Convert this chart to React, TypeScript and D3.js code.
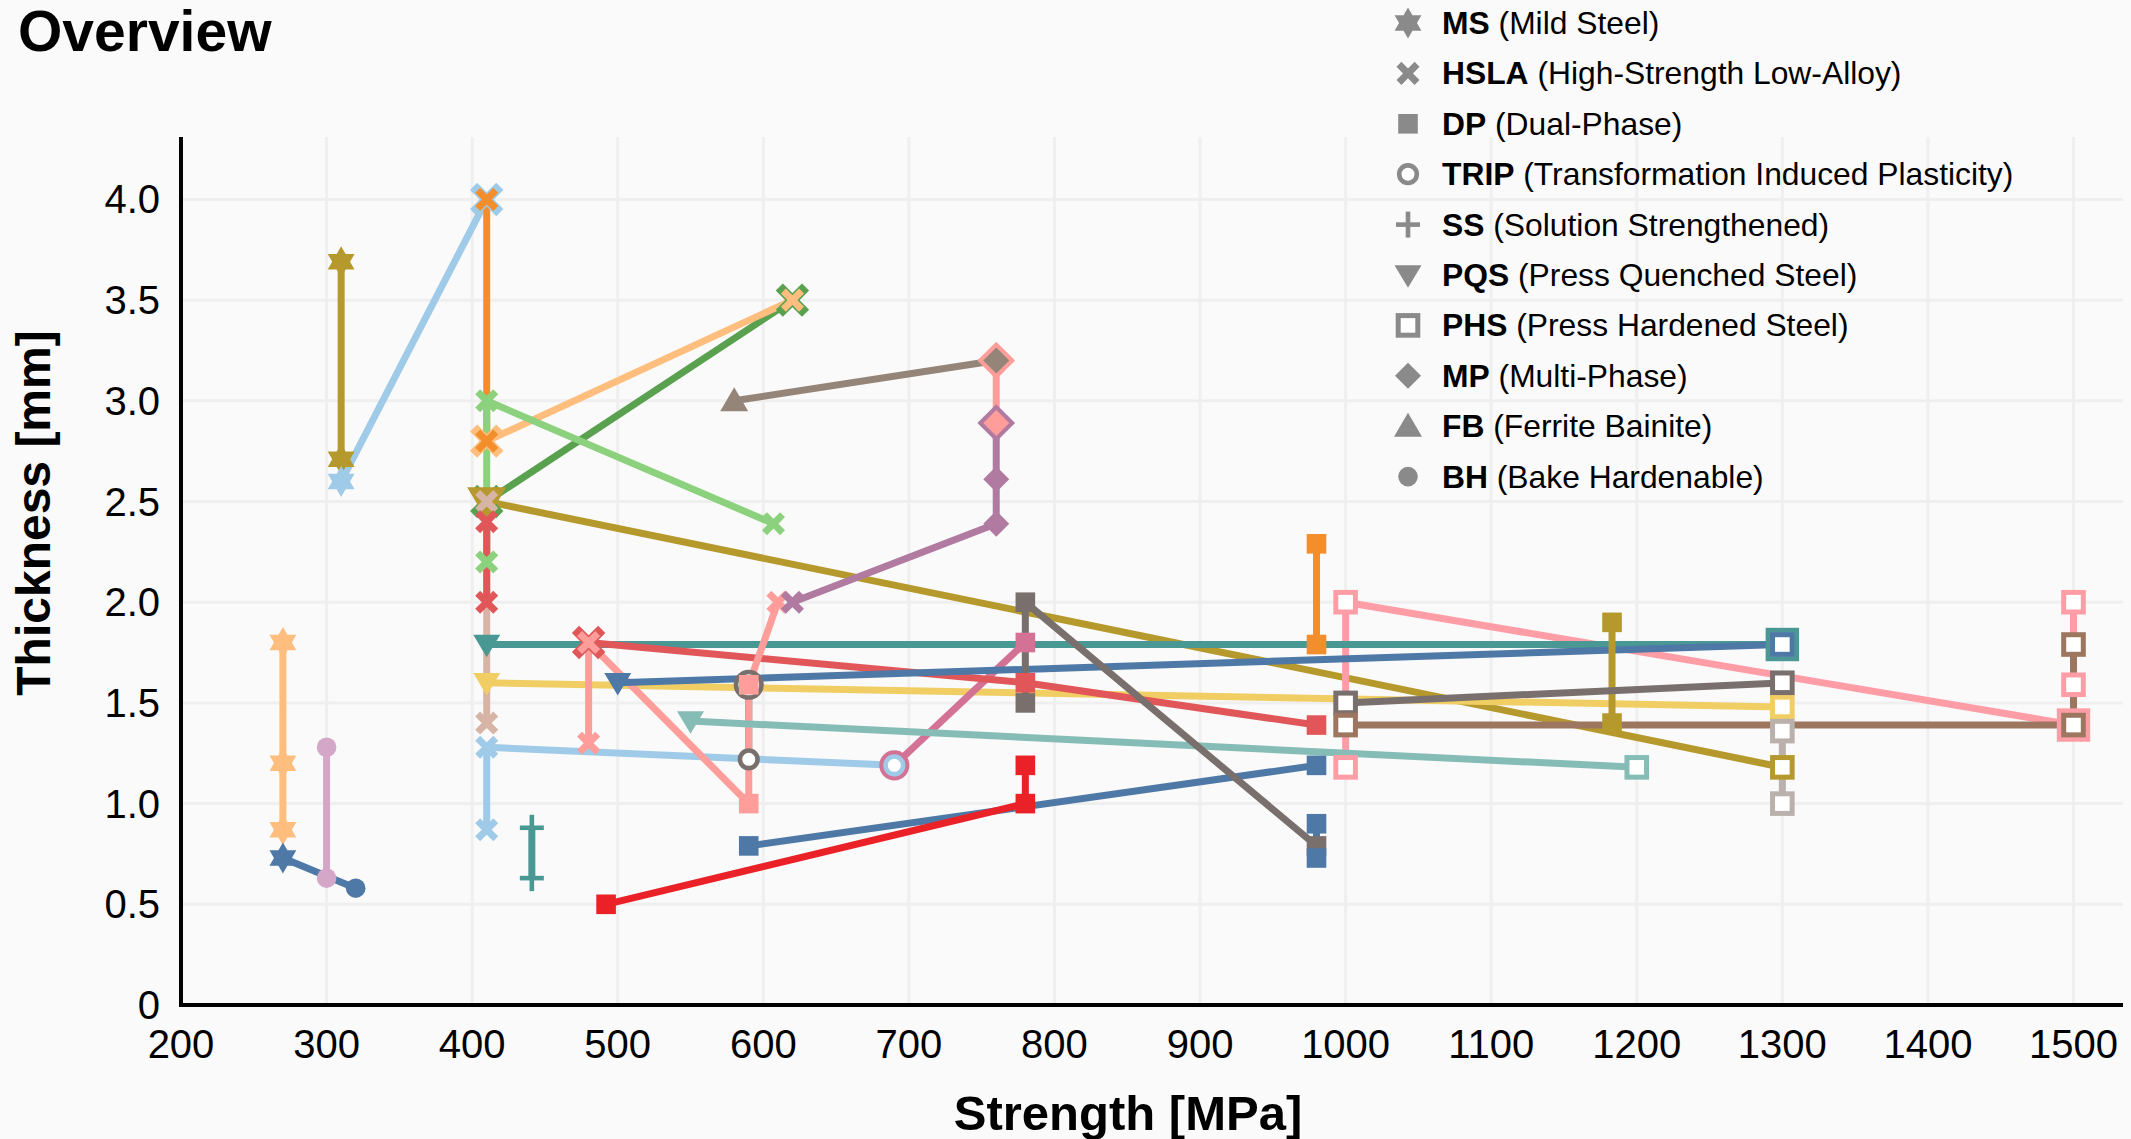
import React, { useEffect } from "react";
import * as d3 from "d3";

type Pt = [number, number, string];

// ---------- data ----------
const xTicks = [200, 300, 400, 500, 600, 700, 800, 900, 1000, 1100, 1200, 1300, 1400, 1500];
const yTicks = [0, 0.5, 1.0, 1.5, 2.0, 2.5, 3.0, 3.5, 4.0];

const legendCodes = ["MS", "HSLA", "DP", "TRIP", "SS", "PQS", "PHS", "MP", "FB", "BH"];
const legendNames = [
  "Mild Steel",
  "High-Strength Low-Alloy",
  "Dual-Phase",
  "Transformation Induced Plasticity",
  "Solution Strengthened",
  "Press Quenched Steel",
  "Press Hardened Steel",
  "Multi-Phase",
  "Ferrite Bainite",
  "Bake Hardenable",
];

const lightOrangeMS: Pt[] = [[270, 1.8, "MS"], [270, 1.2, "MS"], [270, 0.87, "MS"]];
const blueMS: Pt[] = [[270, 0.73, "MS"], [320, 0.58, "BH"]];
const lightPurpleBH: Pt[] = [[300, 1.28, "BH"], [300, 0.63, "BH"]];
const goldMS: Pt[] = [[310, 3.69, "MS"], [310, 2.71, "MS"]];
const lightBlueA: Pt[] = [[310, 2.6, "MS"], [410, 4.0, "HSLA"]];
const greenHSLA: Pt[] = [[410, 2.5, "HSLA"], [620, 3.5, "HSLA"]];
const goldPQS: Pt[] = [[410, 2.5, "PQS"], [1300, 1.18, "PHS"]];
const lightOrangeHSLA: Pt[] = [[410, 2.8, "HSLA"], [620, 3.5, "HSLA"]];
const orangeHSLA: Pt[] = [[410, 4.0, "HSLA"], [410, 2.8, "HSLA"]];
const tanHSLA: Pt[] = [[410, 2.5, "HSLA"], [410, 1.4, "HSLA"]];
const lightGreenHSLA: Pt[] = [[410, 2.2, "HSLA"], [410, 3.0, "HSLA"], [607, 2.39, "HSLA"]];
const redHSLA: Pt[] = [[410, 2.4, "HSLA"], [410, 2.0, "HSLA"]];
const tealPQS: Pt[] = [[410, 1.79, "PQS"], [1300, 1.79, "PHS"]];
const yellowPQS: Pt[] = [[410, 1.6, "PQS"], [1300, 1.48, "PHS"]];
const magentaTRIP: Pt[] = [[690, 1.19, "TRIP"], [780, 1.8, "DP"]];
const lightBlueB: Pt[] = [[410, 0.87, "HSLA"], [410, 1.28, "HSLA"], [690, 1.19, "TRIP"]];
const tealSS: Pt[] = [[441, 0.88, "SS"], [441, 0.63, "SS"]];
const redDP: Pt[] = [[480, 1.8, "HSLA"], [780, 1.6, "DP"], [980, 1.39, "DP"]];
const greyTRIP: Pt[] = [[590, 1.59, "TRIP"], [590, 1.22, "TRIP"]];
const pinkHSLA: Pt[] = [[480, 1.3, "HSLA"], [480, 1.8, "HSLA"], [590, 1.0, "DP"], [590, 1.59, "DP"], [610, 2.0, "HSLA"]];
const bluePQS: Pt[] = [[500, 1.6, "PQS"], [1300, 1.79, "PHS"]];
const lightTealPQS: Pt[] = [[550, 1.41, "PQS"], [1200, 1.18, "PHS"]];
const blueDP: Pt[] = [[590, 0.79, "DP"], [980, 1.19, "DP"]];
const brightRedDP: Pt[] = [[492, 0.5, "DP"], [780, 1.0, "DP"], [780, 1.19, "DP"]];
const purpleMP: Pt[] = [[620, 2.0, "HSLA"], [760, 2.39, "MP"], [760, 2.61, "MP"], [760, 2.89, "MP"]];
const pinkMP: Pt[] = [[760, 3.2, "MP"], [760, 2.89, "MP"]];
const greyFB: Pt[] = [[580, 3.0, "FB"], [760, 3.2, "MP"]];
const greyDP: Pt[] = [[780, 1.5, "DP"], [780, 2.0, "DP"], [980, 0.79, "DP"]];
const blueDP2: Pt[] = [[980, 0.9, "DP"], [980, 0.73, "DP"]];
const orangeDP: Pt[] = [[980, 2.29, "DP"], [980, 1.79, "DP"]];
const goldDP: Pt[] = [[1183, 1.9, "DP"], [1183, 1.4, "DP"]];
const greyPHS: Pt[] = [[1000, 1.5, "PHS"], [1300, 1.6, "PHS"]];
const brownPHS: Pt[] = [[1000, 1.39, "PHS"], [1500, 1.39, "PHS"], [1500, 1.79, "PHS"]];
const lightGreyPHS: Pt[] = [[1300, 1.36, "PHS"], [1300, 1.0, "PHS"]];
const pinkPHS: Pt[] = [[1000, 1.18, "PHS"], [1000, 2.0, "PHS"], [1500, 1.39, "PHS"], [1500, 1.59, "PHS"], [1500, 2.0, "PHS"]];

const seriesList: { color: string; pts: Pt[] }[] = [
  { color: "#ffbe7d", pts: lightOrangeMS },
  { color: "#4e79a7", pts: blueMS },
  { color: "#d4a6c8", pts: lightPurpleBH },
  { color: "#b6992d", pts: goldMS },
  { color: "#a0cbe8", pts: lightBlueA },
  { color: "#59a14f", pts: greenHSLA },
  { color: "#b6992d", pts: goldPQS },
  { color: "#ffbe7d", pts: lightOrangeHSLA },
  { color: "#f28e2b", pts: orangeHSLA },
  { color: "#d7b5a6", pts: tanHSLA },
  { color: "#8cd17d", pts: lightGreenHSLA },
  { color: "#e15759", pts: redHSLA },
  { color: "#ff9da7", pts: pinkPHS },
  { color: "#499894", pts: tealPQS },
  { color: "#f1ce63", pts: yellowPQS },
  { color: "#d37295", pts: magentaTRIP },
  { color: "#a0cbe8", pts: lightBlueB },
  { color: "#499894", pts: tealSS },
  { color: "#e15759", pts: redDP },
  { color: "#79706e", pts: greyTRIP },
  { color: "#ff9d9a", pts: pinkHSLA },
  { color: "#4e79a7", pts: bluePQS },
  { color: "#86bcb6", pts: lightTealPQS },
  { color: "#4e79a7", pts: blueDP },
  { color: "#ea2227", pts: brightRedDP },
  { color: "#b07aa1", pts: purpleMP },
  { color: "#ff9d9a", pts: pinkMP },
  { color: "#958579", pts: greyFB },
  { color: "#79706e", pts: greyDP },
  { color: "#4e79a7", pts: blueDP2 },
  { color: "#f28e2b", pts: orangeDP },
  { color: "#b6992d", pts: goldDP },
  { color: "#79706e", pts: greyPHS },
  { color: "#9d7660", pts: brownPHS },
  { color: "#bab0ac", pts: lightGreyPHS },
];

// ---------- layout ----------
const W = 2131;
const H = 1139;
const FONT = "'Liberation Sans', Arial, Helvetica, sans-serif";
const x = d3.scaleLinear().domain([200, 1534]).range([181, 2123]);
const y = d3.scaleLinear().domain([0, 4.31]).range([1005, 137]);

function polyPath(p: [number, number][]) {
  return "M" + p.map((q) => q[0].toFixed(2) + "," + q[1].toFixed(2)).join("L") + "Z";
}

function starPath(R: number) {
  const r = R / Math.sqrt(3);
  const p: [number, number][] = [];
  for (let i = 0; i < 12; i++) {
    const a = ((-90 + i * 30) * Math.PI) / 180;
    const rad = i % 2 === 0 ? R : r;
    p.push([rad * Math.cos(a), rad * Math.sin(a)]);
  }
  return polyPath(p);
}

function xPath(L: number, a: number) {
  const base: [number, number][] = [
    [a, -L], [a, -a], [L, -a], [L, a], [a, a], [a, L],
    [-a, L], [-a, a], [-L, a], [-L, -a], [-a, -a], [-a, -L],
  ];
  const c = Math.SQRT1_2;
  return polyPath(base.map(([px, py]) => [px * c - py * c, px * c + py * c]));
}

function Marker({ type, color, cx, cy, k }: { type: string; color: string; cx: number; cy: number; k: number }) {
  const t = `translate(${cx},${cy})`;
  switch (type) {
    case "MS":
      return <path transform={t} d={starPath(15.5 * k)} fill={color} />;
    case "HSLA":
      return <path transform={t} d={xPath(12.8 * k, 3.5 * k)} fill={color} />;
    case "DP":
      return <rect x={cx - 9.8 * k} y={cy - 9.8 * k} width={19.6 * k} height={19.6 * k} fill={color} />;
    case "TRIP":
      return <circle cx={cx} cy={cy} r={8.8 * k} fill="#ffffff" stroke={color} strokeWidth={4.6} />;
    case "SS":
      return (
        <g transform={t} stroke={color} strokeWidth={4.6}>
          <line x1={-12 * k} x2={12 * k} y1={0} y2={0} />
          <line x1={0} x2={0} y1={-13 * k} y2={13 * k} />
        </g>
      );
    case "PQS":
      return <path transform={t} d={polyPath([[-13.5 * k, -9.8 * k], [13.5 * k, -9.8 * k], [0, 12.8 * k]])} fill={color} />;
    case "PHS":
      return <rect x={cx - 9.8 * k} y={cy - 9.8 * k} width={19.6 * k} height={19.6 * k} fill="#ffffff" stroke={color} strokeWidth={5} />;
    case "MP":
      return <path transform={t} d={polyPath([[0, -13 * k], [13 * k, 0], [0, 13 * k], [-13 * k, 0]])} fill={color} />;
    case "FB":
      return <path transform={t} d={polyPath([[-14 * k, 10.5 * k], [14 * k, 10.5 * k], [0, -13.5 * k]])} fill={color} />;
    case "BH":
      return <circle cx={cx} cy={cy} r={9.8 * k} fill={color} />;
    default:
      return null;
  }
}

const lineGen = d3
  .line<Pt>()
  .x((d) => x(d[0]))
  .y((d) => y(d[1]));

export default function App() {
  useEffect(() => {
    document.body.style.margin = "0";
    document.body.style.overflow = "hidden";
  }, []);

  // a marker shared with a later series is drawn enlarged (shows as an outline)
  const markers: React.ReactNode[] = [];
  seriesList.forEach((s, si) => {
    s.pts.forEach((p, pi) => {
      const shared = seriesList.some(
        (o, oi) => oi > si && o.pts.some((q) => q[0] === p[0] && q[1] === p[1])
      );
      markers.push(
        <Marker key={`m${si}-${pi}`} type={p[2]} color={s.color} cx={x(p[0])} cy={y(p[1])} k={shared ? 1.45 : 1} />
      );
    });
  });

  const legendY = (i: number) => 23 + i * 50.4;

  return (
    <svg width={W} height={H} style={{ position: "absolute", left: 0, top: 0, display: "block" }} fontFamily={FONT}>
      <rect x={0} y={0} width={W} height={H} fill="#fafafa" />

      {/* grid */}
      <g stroke="#efefef" strokeWidth={3}>
        {xTicks.map((t) => (
          <line key={`gx${t}`} x1={x(t)} x2={x(t)} y1={y(0)} y2={137} />
        ))}
        {yTicks.filter((t) => t > 0).map((t) => (
          <line key={`gy${t}`} x1={181} x2={2123} y1={y(t)} y2={y(t)} />
        ))}
      </g>

      {/* lines */}
      <g fill="none" strokeWidth={7} strokeLinejoin="round">
        {seriesList.map((s, si) => (
          <path key={`l${si}`} d={lineGen(s.pts) || ""} stroke={s.color} />
        ))}
      </g>

      {/* markers */}
      <g>{markers}</g>

      {/* axes */}
      <line x1={181} x2={181} y1={137} y2={1007} stroke="#000" strokeWidth={4} />
      <line x1={179} x2={2123} y1={1005} y2={1005} stroke="#000" strokeWidth={4} />

      {/* tick labels */}
      <g fontSize={40} fill="#000">
        {yTicks.map((t) => (
          <text key={`ty${t}`} x={160} y={y(t)} textAnchor="end" dominantBaseline="central">
            {t === 0 ? "0" : t.toFixed(1)}
          </text>
        ))}
        {xTicks.map((t) => (
          <text key={`tx${t}`} x={x(t)} y={1058} textAnchor="middle">
            {t}
          </text>
        ))}
      </g>

      {/* axis titles */}
      <text x={1128} y={1130} textAnchor="middle" fontSize={49} fontWeight="bold">
        Strength [MPa]
      </text>
      <text transform={`translate(50,513) rotate(-90)`} textAnchor="middle" fontSize={48} fontWeight="bold">
        Thickness [mm]
      </text>

      {/* title */}
      <text x={18} y={51} fontSize={57} fontWeight="bold">
        Overview
      </text>

      {/* legend */}
      <g>
        {legendCodes.map((c, i) => (
          <g key={`lg${c}`}>
            <Marker type={c} color="#8a8a8a" cx={1408} cy={legendY(i)} k={1} />
            <text x={1442} y={legendY(i)} dominantBaseline="central" fontSize={31.8} style={{ whiteSpace: "pre" }}>
              <tspan fontWeight="bold">{c}</tspan>
              <tspan>{` (${legendNames[i]})`}</tspan>
            </text>
          </g>
        ))}
      </g>
    </svg>
  );
}
